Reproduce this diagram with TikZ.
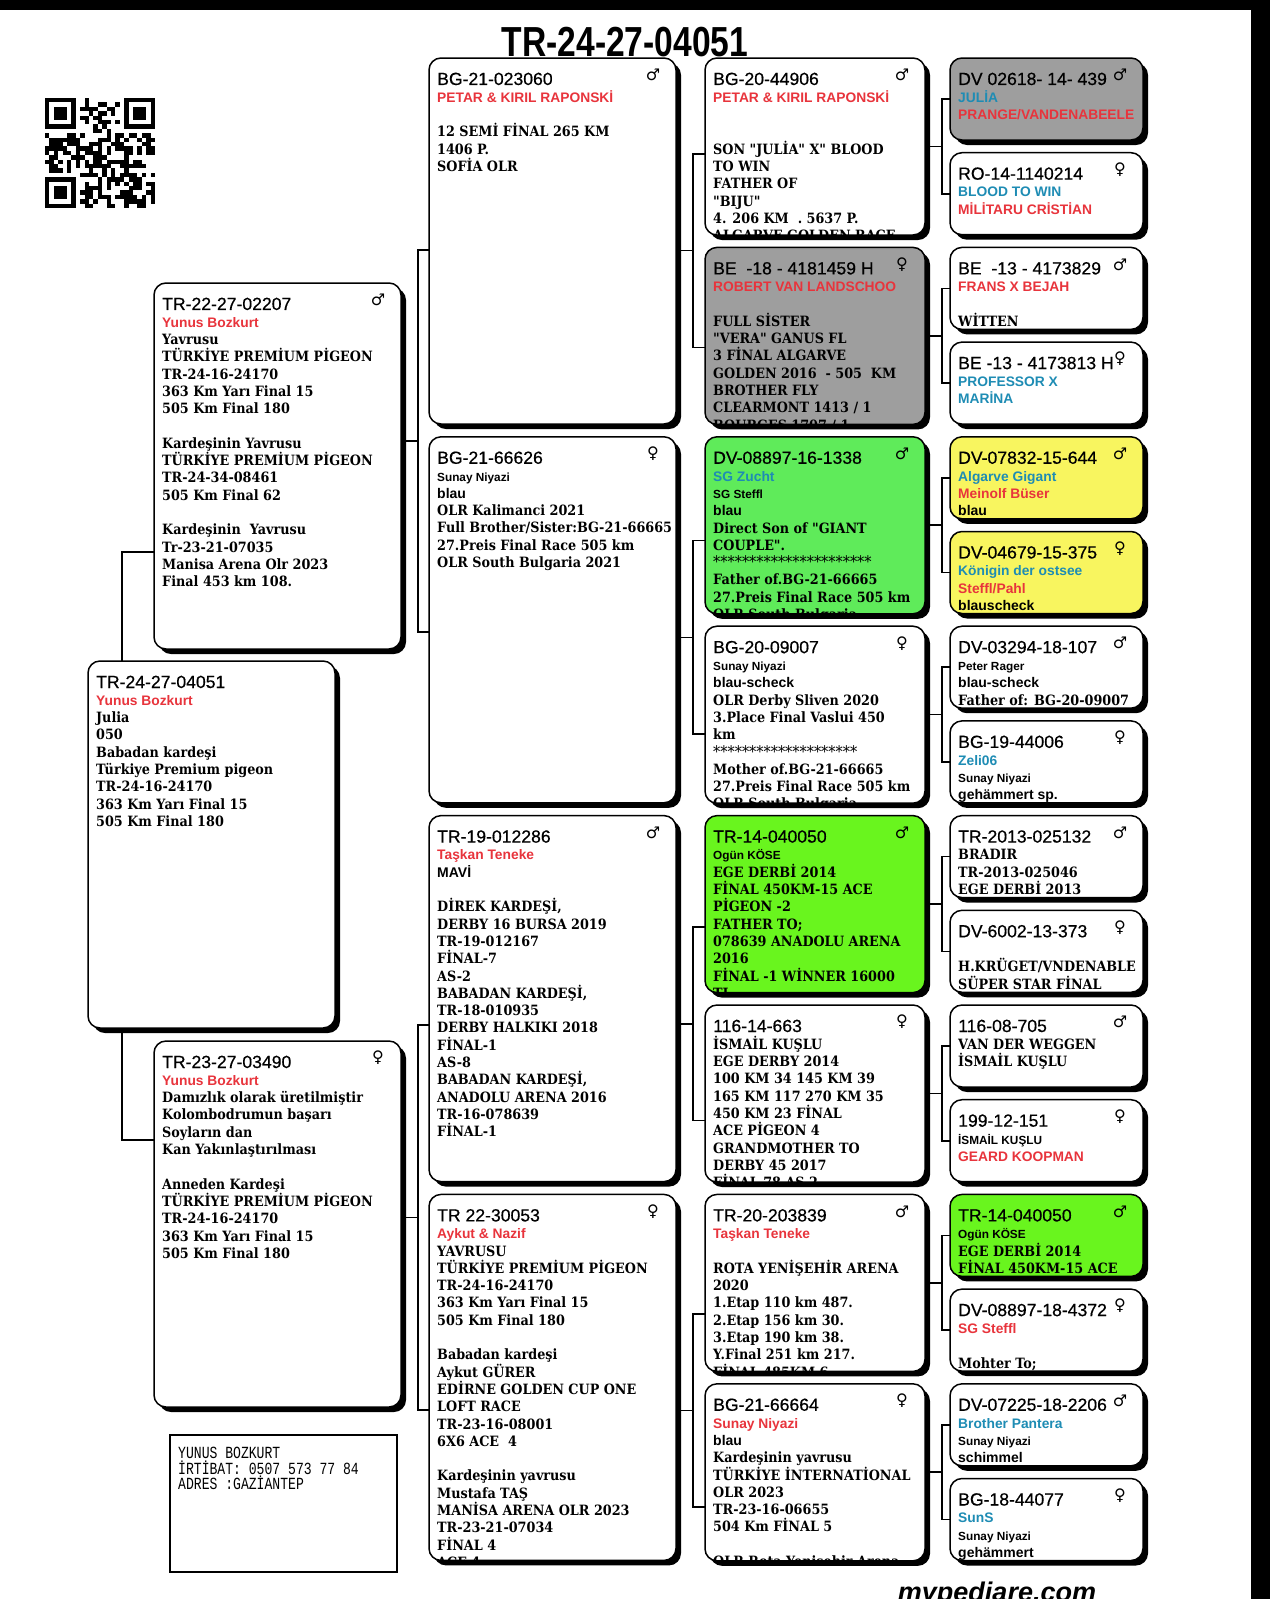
\documentclass[tikz,border=0pt]{standalone}
\usepackage{fontspec}
\usepackage{xcolor}
\usetikzlibrary{shadows,backgrounds}

\setmainfont{DejaVu Serif}[FakeStretch=0.9, Ligatures=TeXOff]
\newfontfamily\idfont{Liberation Sans}[FakeBold=0.5]
\newfontfamily\sanfont{Liberation Sans}
\newfontfamily\symfont{DejaVu Sans}
\newfontfamily\contactfont{Liberation Mono}[FakeStretch=0.77]
\newfontfamily\bigidfont{Liberation Sans}[FakeStretch=0.8]

\definecolor{ownred}{RGB}{232,52,60}
\definecolor{linblue}{RGB}{30,140,180}
\definecolor{cardgray}{RGB}{158,158,158}
\definecolor{cardgreen}{RGB}{95,235,90}
\definecolor{cardlime}{RGB}{105,245,30}
\definecolor{cardyellow}{RGB}{248,245,95}

\newcommand{\pid}[1]{{\idfont\mdseries\fontsize{17.6}{17.3}\selectfont #1}}
\newcommand{\own}[1]{{\color{ownred}\sanfont\fontsize{13.8}{17.3}\selectfont #1}}
\newcommand{\lin}[1]{{\color{linblue}\sanfont\fontsize{13.8}{17.3}\selectfont #1}}
\newcommand{\sml}[1]{{\sanfont\fontsize{11.8}{17.3}\selectfont #1}}
\newcommand{\clr}[1]{{\sanfont\fontsize{14}{17.3}\selectfont #1}}
\newcommand{\stars}[1]{{\mdseries\fontsize{16}{17.3}\selectfont #1}}
\newcommand{\msym}{♂}
\newcommand{\fsym}{♀}

\newcommand{\pedbox}[8]{%
  \node[card, fill=#6, minimum width=#4pt, minimum height=#5pt] (#1) at (#2,#3) {};
  \begin{scope}
    \clip[rounded corners=11pt] ([shift={(1pt,-1pt)}]#1.north west) rectangle ([shift={(-1pt,1pt)}]#1.south east);
    \node[cardtext] (#1-txt) at ([shift={(8pt,-14.5pt)}]#1.north west) {#8};
  \end{scope}
  \node[sexmark] (#1-sex) at ([shift={(-23pt,-17pt)}]#1.north east) {#7};
}

\begin{document}
\begin{tikzpicture}[x=1pt, y=-1pt,
    card/.style = {draw, line width=1.5pt, rounded corners=12pt, anchor=north west, inner sep=0pt, outer sep=0pt,
                   drop shadow={shadow xshift=5pt, shadow yshift=-5pt, opacity=1, fill=black}},
    cardtext/.style = {anchor=north west, inner sep=0pt, align=left, font=\bfseries\fontsize{14.2}{17.3}\selectfont},
    sexmark/.style = {inner sep=0pt, font=\symfont\fontsize{16}{16}\selectfont},
    link/.style = {line width=1.6pt}]
    \useasboundingbox (0,0) rectangle (1270,1599);
    \clip (0,0) rectangle (1270,1599);
    \begin{scope}[on background layer]
        \fill[white] (0,0) rectangle (1270,1599);
    \end{scope}

    \node[font=\bigidfont\bfseries\fontsize{42}{42}\selectfont, anchor=base, inner sep=0pt] (title) at (625,56) {TR-24-27-04051};

    \begin{scope}[shift={(45,98)}]
        \pgfmathsetseed{11}
        \foreach \i in {0,...,24}
            \foreach \j in {0,...,24}{
                \pgfmathtruncatemacro\qon{((\i<8 && \j<8) || (\i>16 && \j<8) || (\i<8 && \j>16)) ? 0 : (rnd<0.5)}
                \ifnum\qon=1 \fill (\i*4.4,\j*4.4) rectangle ++(4.4,4.4); \fi
            }
        \foreach \qx/\qy in {0/0, 18/0, 0/18}{
            \fill (\qx*4.4,\qy*4.4) rectangle ++(30.8,30.8);
            \fill[white] (\qx*4.4+4.4,\qy*4.4+4.4) rectangle ++(22,22);
            \fill (\qx*4.4+8.8,\qy*4.4+8.8) rectangle ++(13.2,13.2);
        }
    \end{scope}

    \pedbox{p1}{88}{661}{247}{367}{white}{}{\pid{TR-24-27-04051}\\ \own{Yunus Bozkurt}\\ Julia\\ 050\\ Babadan kardeşi\\ Türkiye Premium pigeon\\ TR-24-16-24170\\ 363 Km Yarı Final 15\\ 505 Km Final 180}

    \pedbox{p2}{154}{283}{247}{366}{white}{\msym}{\pid{TR-22-27-02207}\\ \own{Yunus Bozkurt}\\ Yavrusu\\ TÜRKİYE PREMİUM PİGEON\\ TR-24-16-24170\\ 363 Km Yarı Final 15\\ 505 Km Final 180\\ \mbox{}\\ Kardeşinin Yavrusu\\ TÜRKİYE PREMİUM PİGEON\\ TR-24-34-08461\\ 505 Km Final 62\\ \mbox{}\\ Kardeşinin~ Yavrusu\\ Tr-23-21-07035\\ Manisa Arena Olr 2023\\ Final 453 km 108.}
    \pedbox{p3}{154}{1041}{247}{366}{white}{\fsym}{\pid{TR-23-27-03490}\\ \own{Yunus Bozkurt}\\ Damızlık olarak üretilmiştir\\ Kolombodrumun başarı\\ Soyların dan\\ Kan Yakınlaştırılması\\ \mbox{}\\ Anneden Kardeşi\\ TÜRKİYE PREMİUM PİGEON\\ TR-24-16-24170\\ 363 Km Yarı Final 15\\ 505 Km Final 180}

    \pedbox{p4}{429}{58}{247}{366}{white}{\msym}{\pid{BG-21-023060}\\ \own{PETAR \& KIRIL RAPONSKİ}\\ \mbox{}\\ 12 SEMİ FİNAL 265 KM\\ 1406 P.\\ SOFİA OLR}
    \pedbox{p5}{429}{436.8}{247}{366}{white}{\fsym}{\pid{BG-21-66626}\\ \sml{Sunay Niyazi}\\ \clr{blau}\\ OLR Kalimanci 2021\\ Full Brother/Sister:BG-21-66665\\ 27.Preis Final Race 505 km\\ OLR South Bulgaria 2021}
    \pedbox{p6}{429}{815.6}{247}{366}{white}{\msym}{\pid{TR-19-012286}\\ \own{Taşkan Teneke}\\ \clr{MAVİ}\\ \mbox{}\\ DİREK KARDEŞİ,\\ DERBY 16 BURSA 2019\\ TR-19-012167\\ FİNAL-7\\ AS-2\\ BABADAN KARDEŞİ,\\ TR-18-010935\\ DERBY HALKIKI 2018\\ FİNAL-1\\ AS-8\\ BABADAN KARDEŞİ,\\ ANADOLU ARENA 2016\\ TR-16-078639\\ FİNAL-1}
    \pedbox{p7}{429}{1194.4}{247}{366}{white}{\fsym}{\pid{TR 22-30053}\\ \own{Aykut \& Nazif}\\ YAVRUSU\\ TÜRKİYE PREMİUM PİGEON\\ TR-24-16-24170\\ 363 Km Yarı Final 15\\ 505 Km Final 180\\ \mbox{}\\ Babadan kardeşi\\ Aykut GÜRER\\ EDİRNE GOLDEN CUP ONE\\ LOFT RACE\\ TR-23-16-08001\\ 6X6 ACE~ 4\\ \mbox{}\\ Kardeşinin yavrusu\\ Mustafa TAŞ\\ MANİSA ARENA OLR 2023\\ TR-23-21-07034\\ FİNAL 4\\ ACE 4}

    \pedbox{p8}{705}{58}{220}{177}{white}{\msym}{\pid{BG-20-44906}\\ \own{PETAR \& KIRIL RAPONSKİ}\\ \mbox{}\\ \mbox{}\\ SON "JULİA" X" BLOOD\\ TO WIN\\ FATHER OF\\ "BIJU"\\ 4. 206 KM~ . 5637 P.\\ ALGARVE GOLDEN RACE}
    \pedbox{p9}{705}{247.4}{220}{177}{cardgray}{\fsym}{\pid{BE~ -18 - 4181459 H}\\ \own{ROBERT VAN LANDSCHOO}\\ \mbox{}\\ FULL SİSTER\\ "VERA" GANUS FL\\ 3 FİNAL ALGARVE\\ GOLDEN 2016~ - 505~ KM\\ BROTHER FLY\\ CLEARMONT 1413 / 1\\ BOURGES 1707 / 1}
    \pedbox{p10}{705}{436.8}{220}{177}{cardgreen}{\msym}{\pid{DV-08897-16-1338}\\ \lin{SG Zucht}\\ \sml{SG Steffl}\\ \clr{blau}\\ Direct Son of "GIANT\\ COUPLE".\\ \stars{**********************}\\ Father of.BG-21-66665\\ 27.Preis Final Race 505 km\\ OLR South Bulgaria}
    \pedbox{p11}{705}{626.2}{220}{177}{white}{\fsym}{\pid{BG-20-09007}\\ \sml{Sunay Niyazi}\\ \clr{blau-scheck}\\ OLR Derby Sliven 2020\\ 3.Place Final Vaslui 450\\ km\\ \stars{********************}\\ Mother of.BG-21-66665\\ 27.Preis Final Race 505 km\\ OLR South Bulgaria}
    \pedbox{p12}{705}{815.6}{220}{177}{cardlime}{\msym}{\pid{TR-14-040050}\\ \sml{Ogün KÖSE}\\ EGE DERBİ 2014\\ FİNAL 450KM-15 ACE\\ PİGEON -2\\ FATHER TO;\\ 078639 ANADOLU ARENA\\ 2016\\ FİNAL -1 WİNNER 16000\\ TL}
    \pedbox{p13}{705}{1005}{220}{177}{white}{\fsym}{\pid{116-14-663}\\ İSMAİL KUŞLU\\ EGE DERBY 2014\\ 100 KM 34 145 KM 39\\ 165 KM 117 270 KM 35\\ 450 KM 23 FİNAL\\ ACE PİGEON 4\\ GRANDMOTHER TO\\ DERBY 45 2017\\ FİNAL 78 AS 2}
    \pedbox{p14}{705}{1194.4}{220}{177}{white}{\msym}{\pid{TR-20-203839}\\ \own{Taşkan Teneke}\\ \mbox{}\\ ROTA YENİŞEHİR ARENA\\ 2020\\ 1.Etap 110 km 487.\\ 2.Etap 156 km 30.\\ 3.Etap 190 km 38.\\ Y.Final 251 km 217.\\ FİNAL 485KM 6}
    \pedbox{p15}{705}{1383.8}{220}{177}{white}{\fsym}{\pid{BG-21-66664}\\ \own{Sunay Niyazi}\\ \clr{blau}\\ Kardeşinin yavrusu\\ TÜRKİYE İNTERNATİONAL\\ OLR 2023\\ TR-23-16-06655\\ 504 Km FİNAL 5\\ \mbox{}\\ OLR Rota Yenisehir Arena}

    \pedbox{p16}{950}{58}{193}{82}{cardgray}{\msym}{\pid{DV 02618- 14- 439}\\ \lin{JULİA}\\ \own{PRANGE/VANDENABEELE}}
    \pedbox{p17}{950}{152.7}{193}{82}{white}{\fsym}{\pid{RO-14-1140214}\\ \lin{BLOOD TO WIN}\\ \own{MİLİTARU CRİSTİAN}}
    \pedbox{p18}{950}{247.4}{193}{82}{white}{\msym}{\pid{BE~ -13 - 4173829}\\ \own{FRANS X BEJAH}\\ \mbox{}\\ WİTTEN}
    \pedbox{p19}{950}{342.1}{193}{82}{white}{\fsym}{\pid{BE -13 - 4173813 H}\\ \lin{PROFESSOR X}\\ \lin{MARİNA}}
    \pedbox{p20}{950}{436.8}{193}{82}{cardyellow}{\msym}{\pid{DV-07832-15-644}\\ \lin{Algarve Gigant}\\ \own{Meinolf Büser}\\ \clr{blau}}
    \pedbox{p21}{950}{531.5}{193}{82}{cardyellow}{\fsym}{\pid{DV-04679-15-375}\\ \lin{Königin der ostsee}\\ \own{Steffl/Pahl}\\ \clr{blauscheck}}
    \pedbox{p22}{950}{626.2}{193}{82}{white}{\msym}{\pid{DV-03294-18-107}\\ \sml{Peter Rager}\\ \clr{blau-scheck}\\ Father of: BG-20-09007}
    \pedbox{p23}{950}{720.9}{193}{82}{white}{\fsym}{\pid{BG-19-44006}\\ \lin{Zeli06}\\ \sml{Sunay Niyazi}\\ \clr{gehämmert sp.}}
    \pedbox{p24}{950}{815.6}{193}{82}{white}{\msym}{\pid{TR-2013-025132}\\ BRADIR\\ TR-2013-025046\\ EGE DERBİ 2013}
    \pedbox{p25}{950}{910.3}{193}{82}{white}{\fsym}{\pid{DV-6002-13-373}\\ \mbox{}\\ H.KRÜGET/VNDENABLE\\ SÜPER STAR FİNAL}
    \pedbox{p26}{950}{1005}{193}{82}{white}{\msym}{\pid{116-08-705}\\ VAN DER WEGGEN\\ İSMAİL KUŞLU}
    \pedbox{p27}{950}{1099.7}{193}{82}{white}{\fsym}{\pid{199-12-151}\\ \sml{İSMAİL KUŞLU}\\ \own{GEARD KOOPMAN}}
    \pedbox{p28}{950}{1194.4}{193}{82}{cardlime}{\msym}{\pid{TR-14-040050}\\ \sml{Ogün KÖSE}\\ EGE DERBİ 2014\\ FİNAL 450KM-15 ACE}
    \pedbox{p29}{950}{1289.1}{193}{82}{white}{\fsym}{\pid{DV-08897-18-4372}\\ \own{SG Steffl}\\ \mbox{}\\ Mohter To;}
    \pedbox{p30}{950}{1383.8}{193}{82}{white}{\msym}{\pid{DV-07225-18-2206}\\ \lin{Brother Pantera}\\ \sml{Sunay Niyazi}\\ \clr{schimmel}}
    \pedbox{p31}{950}{1478.5}{193}{82}{white}{\fsym}{\pid{BG-18-44077}\\ \lin{SunS}\\ \sml{Sunay Niyazi}\\ \clr{gehämmert}}

    \node[draw, line width=1.5pt, anchor=north west, inner sep=0pt, minimum width=227pt, minimum height=137pt] (contact) at (169,1434) {};
    \node[anchor=north west, inner sep=0pt, align=left, font=\contactfont\fontsize{17}{15.7}\selectfont] (contact-txt) at ([shift={(9pt,-13pt)}]contact.north west) {YUNUS BOZKURT\\ İRTİBAT: 0507 573 77 84\\ ADRES :GAZİANTEP};

    \node[anchor=base, inner sep=0pt, font=\sanfont\bfseries\itshape\fontsize{27}{27}\selectfont] (site) at (997,1601) {mypediare.com};

    \fill (0,0) rectangle (1270,10);
    \fill (1251,0) rectangle (1270,1599);

    \foreach \n/\fx/\fy in {1/122/846, 2/418/441, 3/418/1217.5, 4/693/250.6, 5/693/637.3, 6/693/1023.9, 7/693/1410.5,
                            8/942/146.4, 9/942/335.8, 10/942/525.2, 11/942/714.6, 12/942/904, 13/942/1093.4, 14/942/1282.8, 15/942/1472.2}
        \coordinate (f\n) at (\fx,\fy);
    \foreach \m/\sy in {2/552, 3/1140, 4/250, 5/632, 6/1025, 7/1410, 8/154, 9/347.3, 10/540.6, 11/733.9, 12/927.2, 13/1120.5, 14/1313.8, 15/1507.1}
        \coordinate (s\m) at (0,\sy);
    \foreach \m in {16,...,31}
        \coordinate (s\m) at (p\m.center);

    \begin{scope}[on background layer]
        \foreach \n in {1,...,15}{
            \pgfmathtruncatemacro\sa{2*\n}
            \pgfmathtruncatemacro\sb{2*\n+1}
            \draw[link] (p\n.center |- f\n) -- (f\n);
            \draw[link] (p\sa.center |- s\sa) -| (f\n);
            \draw[link] (p\sb.center |- s\sb) -| (f\n);
        }
    \end{scope}
\end{tikzpicture}
\end{document}
